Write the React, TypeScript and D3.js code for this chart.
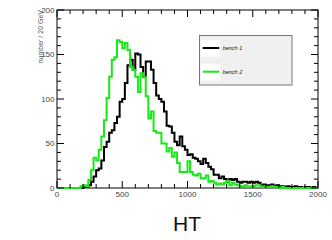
import * as d3 from 'd3';

// bin width 20 GeV, 0..2000
const BIN_WIDTH = 20;
const X_TICKS = [0, 500, 1000, 1500, 2000];
const Y_TICKS = [0, 50, 100, 150, 200];

// bench 1 (black)
const BENCH1 = [
  0, 0, 0, 0, 0, 0, 0, 0, 0, 0,
  1, 1, 3, 7, 13, 20, 22, 31, 46, 52,
  62, 65, 73, 80, 97, 100, 118, 138, 144, 133,
  151, 150, 136, 125, 142, 142, 133, 118, 104, 100,
  97, 86, 70, 69, 62, 52, 48, 58, 47, 43,
  37, 38, 34, 33, 30, 27, 33, 28, 24, 21,
  15, 15, 11, 13, 10, 7, 10, 9, 10, 7,
  6, 7, 7, 6, 7, 6, 7, 6, 3, 4,
  3, 3, 4, 2, 3, 2, 2, 1, 2, 1,
  1, 2, 1, 1, 0, 1, 1, 0, 1, 0,
];

// bench 2 (green)
const BENCH2 = [
  0, 0, 0, 0, 0, 0, 0, 0, 0, 2,
  3, 2, 9, 20, 34, 31, 43, 58, 76, 101,
  125, 144, 147, 166, 164, 157, 163, 155, 136, 133,
  125, 108, 129, 125, 103, 78, 86, 64, 62, 62,
  50, 50, 41, 45, 35, 40, 28, 18, 18, 18,
  30, 18, 15, 14, 16, 11, 11, 14, 7, 8,
  6, 4, 5, 4, 6, 8, 3, 6, 4, 3,
  2, 2, 3, 1, 2, 2, 3, 3, 1, 2,
  1, 1, 2, 1, 1, 0, 1, 0, 0, 0,
  0, 0, 0, 0, 0, 0, 0, 0, 0, 0,
];

const LEGEND = [
  { label: 'bench 1', color: '#000000' },
  { label: 'bench 2', color: '#18e818' },
];

const W = 332;
const H = 240;
const FONT = '"Liberation Sans", Arial, Helvetica, sans-serif';

export default function App() {
  const x = d3.scaleLinear().domain([0, 2000]).range([57, 318]);
  const y = d3.scaleLinear().domain([0, 200]).range([188, 10]);

  // step outline like a ROOT histogram
  const histPath = (vals: number[]) => {
    const pts: [number, number][] = [[0, 0]];
    vals.forEach((v, i) => {
      pts.push([i * BIN_WIDTH, v]);
      pts.push([(i + 1) * BIN_WIDTH, v]);
    });
    pts.push([vals.length * BIN_WIDTH, 0]);
    return d3.line<[number, number]>().x(d => x(d[0])).y(d => y(d[1]))(pts) || '';
  };

  const xMinor = d3.range(0, 2001, 100);
  const yMinor = d3.range(0, 201, 10);
  const [x0, x1] = x.range();
  const [yb, yt] = y.range();

  return (
    <svg width={W} height={H} style={{ position: 'absolute', left: 0, top: 0, background: '#fff' }}>
      <defs>
        <clipPath id="frame">
          <rect x={x0} y={yt} width={x1 - x0} height={yb - yt + 1} />
        </clipPath>
      </defs>

      {/* frame */}
      <rect x={x0} y={yt} width={x1 - x0} height={yb - yt} fill="none" stroke="#000" strokeWidth={1} />

      <g clipPath="url(#frame)" fill="none" strokeWidth={2} strokeLinejoin="miter">
        <path d={histPath(BENCH1)} stroke={LEGEND[0].color} />
        <path d={histPath(BENCH2)} stroke={LEGEND[1].color} />
      </g>

      {/* x ticks, bottom and top */}
      <g stroke="#000" strokeWidth={1}>
        {xMinor.map(v => {
          const len = v % 500 === 0 ? 7 : 4;
          return (
            <g key={'x' + v}>
              <line x1={x(v)} x2={x(v)} y1={yb} y2={yb - len} />
              <line x1={x(v)} x2={x(v)} y1={yt} y2={yt + len} />
            </g>
          );
        })}
        {yMinor.map(v => {
          const len = v % 50 === 0 ? 7 : 4;
          return (
            <g key={'y' + v}>
              <line x1={x0} x2={x0 + len} y1={y(v)} y2={y(v)} />
              <line x1={x1} x2={x1 - len} y1={y(v)} y2={y(v)} />
            </g>
          );
        })}
      </g>

      {/* tick labels */}
      <g fontFamily={FONT} fontSize={8} fill="#444">
        {X_TICKS.map(v => (
          <text key={'xl' + v} x={x(v)} y={196.5} textAnchor="middle">{v}</text>
        ))}
        {Y_TICKS.map(v => (
          <text key={'yl' + v} x={54.5} y={y(v) + 2.5} textAnchor="end">{v}</text>
        ))}
      </g>

      {/* axis titles */}
      <text
        transform="translate(42.5,10) rotate(-90)"
        textAnchor="end"
        fontFamily={FONT}
        fontSize={7}
        fill="#555"
      >
        number / 20 GeV
      </text>
      <text x={187} y={230.5} textAnchor="middle" fontFamily={FONT} fontSize={21} fill="#111">
        HT
      </text>

      {/* legend */}
      <g>
        <rect x={199.5} y={35.5} width={92.5} height={49.5} fill="#f0f0f0" stroke="#777" strokeWidth={1} />
        {LEGEND.map((d, i) => {
          const cy = 48 + i * 23.7;
          return (
            <g key={d.label}>
              <rect x={200.7} y={cy - 8} width={19.3} height={16.7} fill="#fff" />
              <line x1={202.7} x2={219.3} y1={cy} y2={cy} stroke={d.color} strokeWidth={2} />
              <text x={222.7} y={cy + 1.8} fontFamily={FONT} fontSize={5.5} fontStyle="italic" fill="#111">
                {d.label}
              </text>
            </g>
          );
        })}
      </g>
    </svg>
  );
}
